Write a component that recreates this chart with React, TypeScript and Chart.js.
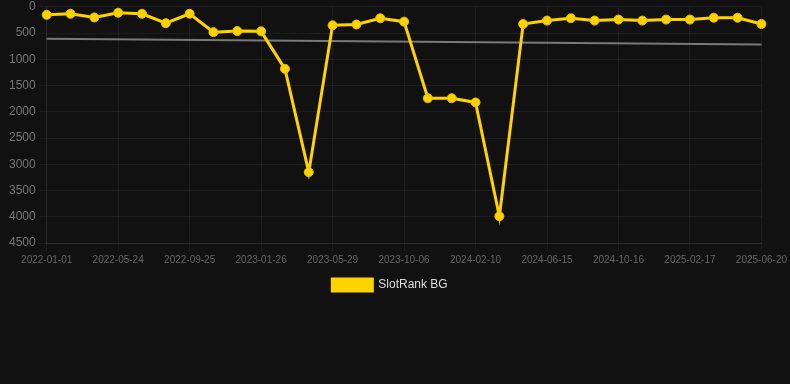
import React, { useEffect, useRef } from "react";
import { Chart, registerables } from "chart.js";

Chart.register(...registerables);

const dates = [
  "2022-01-01", "2022-02-17", "2022-04-06", "2022-05-24", "2022-07-04", "2022-08-15",
  "2022-09-25", "2022-11-05", "2022-12-16", "2023-01-26", "2023-03-09", "2023-04-19",
  "2023-05-29", "2023-07-11", "2023-08-24", "2023-10-06", "2023-11-16", "2023-12-30",
  "2024-02-10", "2024-03-22", "2024-05-03", "2024-06-15", "2024-07-26", "2024-09-05",
  "2024-10-16", "2024-11-27", "2025-01-07", "2025-02-17", "2025-03-31", "2025-05-10",
  "2025-06-20",
];

const rankValues = [
  150, 130, 200, 110, 130, 310, 130, 480, 460, 465, 1180, 3150, 350, 335, 215, 280,
  1740, 1740, 1820, 3990, 325, 260, 215, 260, 240, 260, 240, 240, 205, 205, 325,
];

const trendValues: (number | null)[] = dates.map(() => null);
trendValues[0] = 605;
trendValues[trendValues.length - 1] = 715;

const yTicks = [0, 500, 1000, 1500, 2000, 2500, 3000, 3500, 4000, 4500];

export default function App() {
  const canvasRef = useRef<HTMLCanvasElement | null>(null);

  useEffect(() => {
    document.body.style.margin = "0";
    document.body.style.background = "#111111";
    const canvas = canvasRef.current;
    if (!canvas) return;
    const chart = new Chart(canvas, {
      type: "line",
      data: {
        labels: dates,
        datasets: [
          {
            label: "SlotRank BG",
            data: rankValues,
            borderColor: "#FFD300",
            backgroundColor: "#FFD300",
            pointBackgroundColor: "#FFD300",
            pointBorderColor: "#E6BE00",
            borderWidth: 3,
            pointRadius: 4.5,
            pointBorderWidth: 1,
            tension: 0,
          },
          {
            label: "trend",
            data: trendValues,
            borderColor: "rgba(140,140,140,0.85)",
            backgroundColor: "rgba(140,140,140,0.85)",
            borderWidth: 2,
            pointRadius: 0,
            spanGaps: true,
          },
        ],
      },
      options: {
        animation: false,
        responsive: false,
        maintainAspectRatio: false,
        layout: { padding: { left: 6, right: 16, top: 0, bottom: 2 } },
        plugins: {
          legend: {
            position: "bottom",
            labels: {
              color: "#dddddd",
              font: { family: "Arial, 'Liberation Sans', sans-serif", size: 12 },
              boxWidth: 40,
              boxHeight: 12,
              filter: (item) => item.text !== "trend",
            },
          },
          tooltip: { enabled: false },
        },
        scales: {
          x: {
            grid: { color: "rgba(255,255,255,0.05)" },
            border: { color: "rgba(255,255,255,0.08)" },
            ticks: {
              color: "#666666",
              font: { family: "Arial, 'Liberation Sans', sans-serif", size: 10 },
              maxRotation: 0,
              autoSkip: true,
              maxTicksLimit: 11,
            },
          },
          y: {
            reverse: true,
            min: 0,
            max: 4500,
            grid: { color: "rgba(255,255,255,0.05)" },
            border: { color: "rgba(255,255,255,0.08)" },
            afterBuildTicks: (axis) => {
              axis.ticks = yTicks.map((v) => ({ value: v }));
            },
            ticks: {
              color: "#777777",
              font: { family: "Arial, 'Liberation Sans', sans-serif", size: 12, lineHeight: 0.66 },
              callback: (v) => String(v),
            },
          },
        },
      },
    });
    return () => chart.destroy();
  }, []);

  return (
    <div style={{ position: "fixed", inset: 0, background: "#111111" }}>
      <canvas ref={canvasRef} width={790} height={303} style={{ display: "block" }} />
    </div>
  );
}
